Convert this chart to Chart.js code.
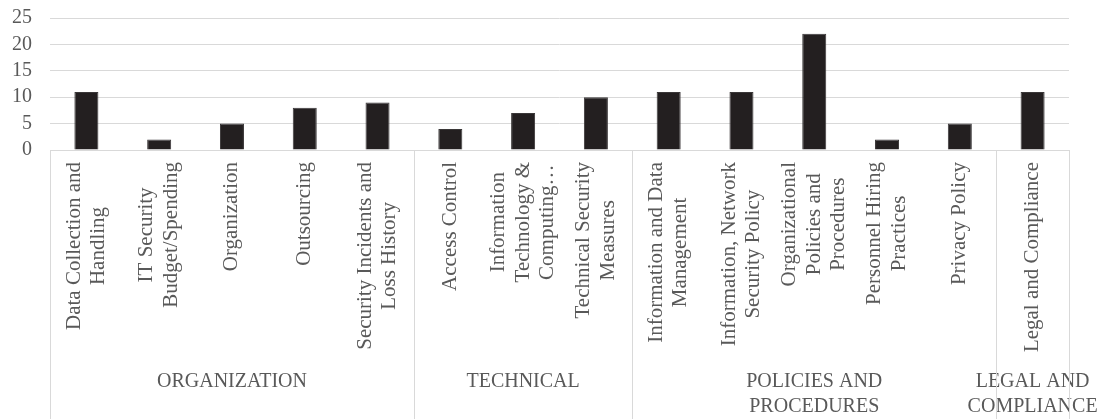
<!DOCTYPE html>
<html lang="en">
<head>
  <meta charset="UTF-8">
  <title>Risk Categories</title>
  <script src="https://cdn.jsdelivr.net/npm/chart.js"></script>
  <style>
    body {
      margin: 0;
      background-color: #fff;
    }

    .chart-container {
      width: 1105px;
      height: 419px;
      position: relative;
    }
  </style>
</head>
<body>
  <div class="chart-container">
    <canvas id="risk-chart"></canvas>
  </div>

  <script>
    // Categories (each entry is the wrapped lines of the label)
    const categories = [
      ["Data Collection and", "Handling"],
      ["IT Security", "Budget/Spending"],
      ["Organization"],
      ["Outsourcing"],
      ["Security Incidents and", "Loss History"],
      ["Access Control"],
      ["Information", "Technology &", "Computing…"],
      ["Technical Security", "Measures"],
      ["Information and Data", "Management"],
      ["Information, Network", "Security Policy"],
      ["Organizational", "Policies and", "Procedures"],
      ["Personnel Hiring", "Practices"],
      ["Privacy Policy"],
      ["Legal and Compliance"]
    ];
    const counts = [11, 2, 5, 8, 9, 4, 7, 10, 11, 11, 22, 2, 5, 11];

    const groupNames = [
      ["ORGANIZATION"],
      ["TECHNICAL"],
      ["POLICIES AND", "PROCEDURES"],
      ["LEGAL AND", "COMPLIANCE"]
    ];
    const groupSizes = [5, 3, 5, 1];

    const yMax = 25;
    const yStep = 5;

    const textColor = "#595959";
    const lineColor = "#d9d9d9";
    const serif = '"Liberation Serif", "Times New Roman", serif';

    // Draws the two-level category axis under the plot
    const groupAxis = {
      id: "groupAxis",
      afterDraw(chart) {
        const ctx = chart.ctx;
        const x = chart.scales.x;
        const top = chart.chartArea.bottom;
        const bottom = chart.height;
        const half = (x.getPixelForValue(1) - x.getPixelForValue(0)) / 2;

        ctx.save();

        // category labels, rotated, lines centred on each other
        ctx.fillStyle = textColor;
        ctx.font = "21px " + serif;
        ctx.textAlign = "center";
        ctx.textBaseline = "middle";
        categories.forEach((lines, i) => {
          const cx = x.getPixelForValue(i);
          const maxW = Math.max(...lines.map((l) => ctx.measureText(l).width));
          ctx.save();
          ctx.translate(cx, top + 12 + maxW / 2);
          ctx.rotate(-Math.PI / 2);
          lines.forEach((line, j) => {
            ctx.fillText(line, 0, (j - (lines.length - 1) / 2) * 24.5);
          });
          ctx.restore();
        });

        // group separators and names
        ctx.strokeStyle = lineColor;
        ctx.lineWidth = 1;
        ctx.font = "20px " + serif;
        let start = 0;
        const edges = [start];
        groupSizes.forEach((size, g) => {
          const left = x.getPixelForValue(start) - half;
          const right = x.getPixelForValue(start + size - 1) + half;
          const mid = (left + right) / 2;
          groupNames[g].forEach((line, j) => {
            ctx.fillText(line, mid, 382 + j * 25);
          });
          start += size;
          edges.push(start);
        });
        edges.forEach((e) => {
          const px = Math.round(x.getPixelForValue(e) - half) + 0.5;
          ctx.beginPath();
          ctx.moveTo(px, top);
          ctx.lineTo(px, bottom);
          ctx.stroke();
        });

        ctx.restore();
      }
    };

    new Chart(document.getElementById("risk-chart"), {
      type: "bar",
      data: {
        labels: categories.map((c) => c.join(" ")),
        datasets: [
          {
            data: counts,
            backgroundColor: "#231f20",
            borderColor: "#3a3738",
            borderWidth: 1,
            barPercentage: 0.33,
            categoryPercentage: 1
          }
        ]
      },
      options: {
        responsive: true,
        maintainAspectRatio: false,
        animation: false,
        layout: {
          padding: { left: 12, right: 36, top: 18, bottom: 269 }
        },
        plugins: {
          legend: { display: false },
          tooltip: { enabled: false }
        },
        scales: {
          x: {
            grid: { display: false },
            ticks: { display: false },
            border: { display: true, color: lineColor, width: 1 },
            afterFit: (scale) => {
              scale.height = 0;
            }
          },
          y: {
            min: 0,
            max: yMax,
            afterFit: (scale) => {
              scale.width = 38;
            },
            // invisible tick marks give the gap between labels and plot
            grid: {
              color: lineColor,
              drawTicks: true,
              tickLength: 18,
              tickColor: "rgba(0,0,0,0)"
            },
            border: { display: false },
            ticks: {
              stepSize: yStep,
              autoSkip: false,
              padding: 0,
              color: textColor,
              font: { family: serif, size: 20 }
            }
          }
        }
      },
      plugins: [groupAxis]
    });
  </script>
</body>
</html>
